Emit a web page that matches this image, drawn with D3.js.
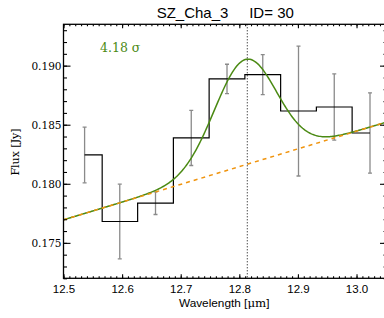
<!DOCTYPE html>
<html>
<head>
<meta charset="utf-8">
<title>SZ_Cha_3 ID= 30</title>
<style type="text/css">
	body { margin: 0; background: #fff; }
	svg { display: block; }
	.serif { font-family: "DejaVu Serif", serif; }
	.sans { font-family: "Liberation Sans", Arial, sans-serif; }
	.axis line { stroke: #000; stroke-width: 1.1; }
</style>
</head>
<body>
<svg id="chart"></svg>
<script src="https://cdn.jsdelivr.net/npm/d3@7"></script>
<script type="text/javascript">

	// binned spectrum (bin centre in micron, flux and 1-sigma error in Jy)
	var wave = [12.536, 12.596, 12.657, 12.718, 12.779, 12.840, 12.901, 12.962, 13.023];
	var flux = [0.18244, 0.17681, 0.17836, 0.18388, 0.18888, 0.18924, 0.18616, 0.1865, 0.1843];
	var ferr = [0.00236, 0.00316, 0.00096, 0.00233, 0.00124, 0.0017, 0.0055, 0.0028, 0.0034];

	// fit: linear continuum + gaussian
	var contAt = [12.5, 0.17695];
	var contSlope = 0.01501;
	var gCentre = 12.8103, gAmp = 0.00891, gSigma = 0.053;
	var lineWave = 12.8136;

	var xTicks = [12.5, 12.6, 12.7, 12.8, 12.9, 13.0];
	var yTicks = [0.175, 0.180, 0.185, 0.190];
	var title = "SZ_Cha_3     ID= 30";
	var note = "4.18 \u03c3";

	var width = 384, height = 318;
	var pL = 63.5, pR = 387, pT = 24.3, pB = 278.3;

	var svg = d3.select("#chart").attr("width", width).attr("height", height);

	var x = d3.scaleLinear().domain([12.5, 13.052]).range([pL, pR]);
	var y = d3.scaleLinear().domain([0.172, 0.1935]).range([pB, pT]);

	function cont(l) { return contAt[1] + contSlope * (l - contAt[0]); }
	function model(l) { return cont(l) + gAmp * Math.exp(-Math.pow(l - gCentre, 2) / (2 * gSigma * gSigma)); }

	svg.append("clipPath").attr("id", "clip")
		.append("rect").attr("x", pL).attr("y", pT)
		.attr("width", pR - pL).attr("height", pB - pT);

	var plot = svg.append("g").attr("clip-path", "url(#clip)");

	// error bars
	var eb = plot.append("g").selectAll("g").data(wave).enter().append("g")
		.attr("stroke", "#8a8a8a").attr("stroke-width", 1.3);
	eb.append("line")
		.attr("x1", d => x(d)).attr("x2", d => x(d))
		.attr("y1", (d, i) => y(flux[i] - ferr[i]))
		.attr("y2", (d, i) => y(flux[i] + ferr[i]));
	eb.append("line")
		.attr("x1", d => x(d) - 2).attr("x2", d => x(d) + 2)
		.attr("y1", (d, i) => y(flux[i] - ferr[i])).attr("y2", (d, i) => y(flux[i] - ferr[i]));
	eb.append("line")
		.attr("x1", d => x(d) - 2).attr("x2", d => x(d) + 2)
		.attr("y1", (d, i) => y(flux[i] + ferr[i])).attr("y2", (d, i) => y(flux[i] + ferr[i]));

	// histogram
	plot.append("path")
		.datum(wave.map((d, i) => [d, flux[i]]))
		.attr("fill", "none").attr("stroke", "#000").attr("stroke-width", 1.2)
		.attr("d", d3.line().x(d => x(d[0])).y(d => y(d[1])).curve(d3.curveStep));

	// fitted model
	var grid = d3.range(12.5, 13.06, 0.002);
	plot.append("path")
		.datum(grid)
		.attr("fill", "none").attr("stroke", "#4b8a14").attr("stroke-width", 1.5)
		.attr("d", d3.line().x(d => x(d)).y(d => y(model(d))));

	plot.append("path")
		.datum([12.5, 13.06])
		.attr("fill", "none").attr("stroke", "#f0940e").attr("stroke-width", 1.5)
		.attr("stroke-dasharray", "4,4")
		.attr("d", d3.line().x(d => x(d)).y(d => y(cont(d))));

	// line position
	svg.append("line")
		.attr("x1", x(lineWave)).attr("x2", x(lineWave))
		.attr("y1", pT).attr("y2", pB)
		.attr("stroke", "#000").attr("stroke-width", 1).attr("stroke-dasharray", "1,2");

	// axes
	var xMinor = d3.range(12.5, 13.06, 0.01);
	var yMinor = d3.range(0.172, 0.1936, 0.001);

	svg.append("g").attr("class", "axis sans").attr("transform", "translate(0," + pB + ")")
		.call(d3.axisBottom(x).tickValues(xTicks).tickSize(-4).tickPadding(7).tickFormat(d3.format(".1f")))
		.call(g => g.selectAll("text").attr("font-size", 11.5).attr("fill", "#000"));
	svg.append("g").attr("class", "axis").attr("transform", "translate(0," + pB + ")")
		.call(d3.axisBottom(x).tickValues(xMinor).tickSize(-2).tickFormat(""));
	svg.append("g").attr("class", "axis").attr("transform", "translate(0," + pT + ")")
		.call(d3.axisTop(x).tickValues(xTicks).tickSize(-4).tickFormat(""));
	svg.append("g").attr("class", "axis").attr("transform", "translate(0," + pT + ")")
		.call(d3.axisTop(x).tickValues(xMinor).tickSize(-2).tickFormat(""));

	svg.append("g").attr("class", "axis serif").attr("transform", "translate(" + pL + ",0)")
		.call(d3.axisLeft(y).tickValues(yTicks).tickSize(-7).tickPadding(2).tickFormat(d3.format(".3f")))
		.call(g => g.selectAll("text").attr("font-size", 10.5).attr("fill", "#000"));
	svg.append("g").attr("class", "axis").attr("transform", "translate(" + pL + ",0)")
		.call(d3.axisLeft(y).tickValues(yMinor).tickSize(-3.5).tickFormat(""));
	svg.append("g").attr("class", "axis").attr("transform", "translate(" + pR + ",0)")
		.call(d3.axisRight(y).tickValues(yTicks).tickSize(-7).tickFormat(""));
	svg.append("g").attr("class", "axis").attr("transform", "translate(" + pR + ",0)")
		.call(d3.axisRight(y).tickValues(yMinor).tickSize(-3.5).tickFormat(""));
	svg.selectAll(".axis .domain").remove();

	svg.append("rect")
		.attr("x", pL).attr("y", pT).attr("width", pR - pL).attr("height", pB - pT)
		.attr("fill", "none").attr("stroke", "#000").attr("stroke-width", 1.3);

	// texts
	svg.append("text").attr("class", "sans")
		.attr("x", (pL + pR) / 2).attr("y", 18)
		.attr("text-anchor", "middle").attr("font-size", 15)
		.attr("xml:space", "preserve")
		.style("white-space", "pre")
		.text(title);

	svg.append("text").attr("class", "serif")
		.attr("x", 100).attr("y", 52)
		.attr("font-size", 12.5).attr("fill", "#4b8a14")
		.text(note);

	var xl = svg.append("text").attr("class", "sans")
		.attr("x", (pL + pR) / 2 - 1).attr("y", 307)
		.attr("text-anchor", "middle").attr("font-size", 11.8);
	xl.append("tspan").text("Wavelength [");
	xl.append("tspan").attr("class", "serif").text("\u03bcm");
	xl.append("tspan").text("]");

	svg.append("text").attr("class", "serif")
		.attr("transform", "translate(19,152) rotate(-90)")
		.attr("text-anchor", "middle").attr("font-size", 11)
		.text("Flux [Jy]");

</script>
</body>
</html>
